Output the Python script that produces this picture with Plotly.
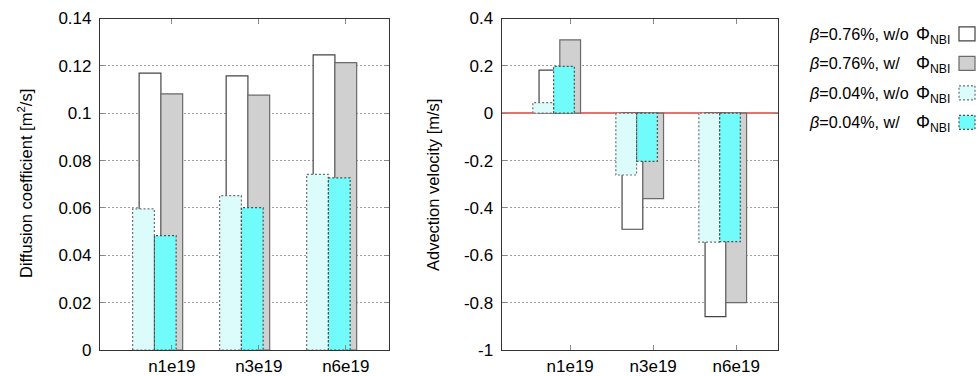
import plotly.graph_objects as go

W, H = 978, 376

categories = ["n1e19", "n3e19", "n6e19"]

# Diffusion coefficient [m^2/s]
D_b076_wo = [0.1169, 0.1158, 0.1246]
D_b076_w = [0.1082, 0.1076, 0.1214]
D_b004_wo = [0.0596, 0.0652, 0.0742]
D_b004_w = [0.0483, 0.0601, 0.0727]

# Advection velocity [m/s]
V_b076_wo = [0.182, -0.490, -0.859]
V_b076_w = [0.310, -0.361, -0.800]
V_b004_wo = [0.045, -0.261, -0.544]
V_b004_w = [0.198, -0.203, -0.542]

left_tickvals = [0, 0.02, 0.04, 0.06, 0.08, 0.1, 0.12, 0.14]
left_ticktext = ["0", "0.02", "0.04", "0.06", "0.08", "0.1", "0.12", "0.14"]
right_tickvals = [-1, -0.8, -0.6, -0.4, -0.2, 0, 0.2, 0.4]
right_ticktext = ["-1", "-0.8", "-0.6", "-0.4", "-0.2", "0", "0.2", "0.4"]

legend_labels = [
    ("<i>β</i>=0.76%, w/o", "Φ<sub>NBI</sub>"),
    ("<i>β</i>=0.76%, w/", "Φ<sub>NBI</sub>"),
    ("<i>β</i>=0.04%, w/o", "Φ<sub>NBI</sub>"),
    ("<i>β</i>=0.04%, w/", "Φ<sub>NBI</sub>"),
]

# styles: (fill, line color, offset, dashed)
BW = 0.25
styles = [
    ("#ffffff", "#444444", -0.375, False),
    ("#d0d0d0", "#6a6a6a", -0.125, False),
    ("#dcfcfc", "#707070", -0.45, True),
    ("#72fbfb", "#505050", -0.20, True),
]

FONT = "Liberation Sans, Arial, Helvetica, sans-serif"
xpos = list(range(len(categories)))

fig = go.Figure()


def add_series(vals, style, xa, ya):
    fill, lc, off, dashed = style
    fig.add_trace(go.Bar(
        x=xpos, y=vals, width=BW, offset=off,
        marker=dict(color=fill, line=dict(color=lc, width=0 if dashed else 1.2)),
        xaxis=xa, yaxis=ya, showlegend=False, hoverinfo="skip",
    ))
    if dashed:
        xs, ys = [], []
        for i, v in zip(xpos, vals):
            x0, x1 = i + off, i + off + BW
            xs += [x0, x0, x1, x1, x0, None]
            ys += [0, v, v, 0, 0, None]
        fig.add_trace(go.Scatter(
            x=xs, y=ys, mode="lines",
            line=dict(color=lc, width=1.2, dash="2px,2px"),
            xaxis=xa, yaxis=ya, showlegend=False, hoverinfo="skip",
        ))


for vals, st in zip([D_b076_wo, D_b076_w, D_b004_wo, D_b004_w], styles):
    add_series(vals, st, "x", "y")
for vals, st in zip([V_b076_wo, V_b076_w, V_b004_wo, V_b004_w], styles):
    add_series(vals, st, "x2", "y2")

ydom = [1 - 350 / H, 1 - 18.5 / H]
common_x = dict(
    tickmode="array", tickvals=xpos, ticktext=categories, range=[-0.825, 2.5],
    showline=True, linecolor="#333333", linewidth=1.2, mirror="ticks",
    ticks="inside", ticklen=5, tickcolor="#888888", showgrid=False, zeroline=False,
    tickfont=dict(family=FONT, size=17, color="#000000"), automargin=False,
)
common_y = dict(
    tickmode="array",
    showline=True, linecolor="#333333", linewidth=1.2, mirror="ticks",
    ticks="inside", ticklen=5, tickcolor="#888888",
    showgrid=True, gridcolor="#a0a0a0", gridwidth=1, griddash="2px,2px",
    tickfont=dict(family=FONT, size=17, color="#000000"), automargin=False,
    domain=ydom, ticklabelstandoff=4,
)

fig.update_layout(
    width=W, height=H, margin=dict(l=0, r=0, t=0, b=0),
    paper_bgcolor="#ffffff", plot_bgcolor="#ffffff",
    barmode="overlay", template="none", showlegend=False,
    font=dict(family=FONT, color="#000000"),
    xaxis=dict(domain=[100 / W, 389.3 / W], anchor="y", **common_x),
    yaxis=dict(anchor="x", range=[0, 0.14], tickvals=left_tickvals,
               ticktext=left_ticktext, zeroline=False, **common_y),
    xaxis2=dict(domain=[501.7 / W, 777.7 / W], anchor="y2", **common_x),
    yaxis2=dict(anchor="x2", range=[-1, 0.4], tickvals=right_tickvals,
                ticktext=right_ticktext, zeroline=True, zerolinecolor="#e87070",
                zerolinewidth=2, **common_y),
)

ann = []
ann.append(dict(text="Diffusion coefficient [m<sup>2</sup>/s]", textangle=-90,
                x=25 / W, y=1 - 184 / H, xref="paper", yref="paper",
                xanchor="center", yanchor="middle", showarrow=False,
                font=dict(family=FONT, size=16.5, color="#000000")))
ann.append(dict(text="Advection velocity [m/s]", textangle=-90,
                x=433 / W, y=1 - 185 / H, xref="paper", yref="paper",
                xanchor="center", yanchor="middle", showarrow=False,
                font=dict(family=FONT, size=16.5, color="#000000")))

shapes = []
row_y = [33.8, 63.3, 92.8, 122.3]
for (lab, phi), st, ry in zip(legend_labels, styles, row_y):
    fill, lc, off, dashed = st
    ann.append(dict(text=lab, x=806.5 / W, y=1 - ry / H, xref="paper", yref="paper",
                    xanchor="left", yanchor="middle", showarrow=False,
                    font=dict(family=FONT, size=16.2, color="#000000")))
    ann.append(dict(text=phi, x=913.5 / W, y=1 - (ry + 1.5) / H, xref="paper", yref="paper",
                    xanchor="left", yanchor="middle", showarrow=False,
                    font=dict(family=FONT, size=17.5, color="#000000")))
    shapes.append(dict(type="rect", xref="paper", yref="paper",
                       x0=959 / W, x1=975 / W, y0=1 - (ry - 7) / H, y1=1 - (ry + 7) / H,
                       fillcolor=fill,
                       line=dict(color=lc, width=1.2, dash="2px,2px" if dashed else "solid")))

fig.update_layout(annotations=ann, shapes=shapes)
fig.write_html("out.html")
